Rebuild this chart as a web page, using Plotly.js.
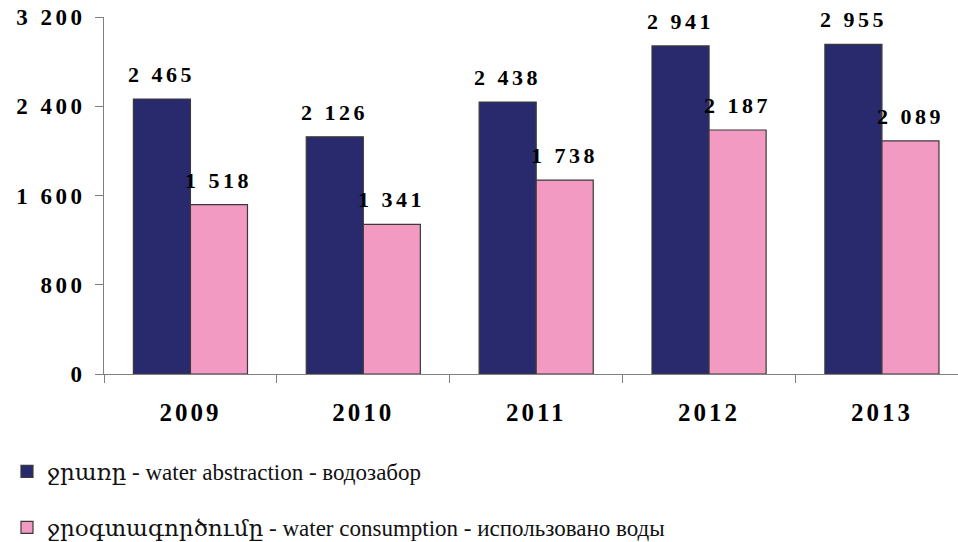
<!DOCTYPE html>
<html>
<head>
<meta charset="utf-8">
<script src="https://cdn.plot.ly/plotly-3.0.1.min.js"></script>
<style>
html, body { margin: 0; padding: 0; background: #fff; }
#chart { width: 958px; height: 542px; }
.xtick text { letter-spacing: 3px; }
.ytick text { letter-spacing: 3.5px; }
.annotation-text { letter-spacing: 3.5px; }
</style>
</head>
<body>
<div id="chart"></div>
<script>
var years = ['2009', '2010', '2011', '2012', '2013'];
var abstraction = [2465, 2126, 2438, 2941, 2955];
var consumption = [1518, 1341, 1738, 2187, 2089];
var abstractionName = 'ջրառը - water abstraction - водозабор';
var consumptionName = 'ջրօգտագործումը - water consumption - использовано воды';
var yTickVals = [0, 800, 1600, 2400, 3200];

function fmt(v) { return String(v).replace(/\B(?=(\d{3})+(?!\d))/g, ' '); }

var serif = 'Liberation Serif, DejaVu Serif, serif';
var navy = '#29296e';
var pink = '#f39ac2';
var barLine = { color: '#3a3a3a', width: 1.2 };

var traces = [
  { type: 'bar', x: years, y: abstraction, name: abstractionName, legendgroup: 'a',
    marker: { color: navy, line: barLine }, hoverinfo: 'y' },
  { type: 'bar', x: years, y: consumption, name: consumptionName, legendgroup: 'b',
    marker: { color: pink, line: barLine }, hoverinfo: 'y' }
];

var bargap = 0.34;
var half = (1 - bargap) / 4;
var labelFont = { family: serif, size: 22, weight: 'bold', color: '#000' };
var annotations = [];
years.forEach(function (yr, i) {
  annotations.push({ x: i - half, y: abstraction[i], xref: 'x', yref: 'y', text: fmt(abstraction[i]),
    showarrow: false, yanchor: 'bottom', yshift: 10, font: labelFont });
  annotations.push({ x: i + half, y: consumption[i], xref: 'x', yref: 'y', text: fmt(consumption[i]),
    showarrow: false, yanchor: 'bottom', yshift: 10, font: labelFont });
});

var layout = {
  width: 958, height: 542,
  margin: { l: 104, r: 0, t: 17, b: 168 },
  paper_bgcolor: '#fff', plot_bgcolor: '#fff',
  font: { family: serif },
  barmode: 'group', bargap: bargap, bargroupgap: 0,
  showlegend: true,
  legend: {
    orientation: 'v', xref: 'paper', yref: 'container',
    x: -0.1136, xanchor: 'left', y: 0.1697, yanchor: 'top',
    traceorder: 'grouped', tracegroupgap: 23,
    font: { family: serif, size: 23, color: '#111' }
  },
  xaxis: {
    type: 'category', range: [-0.5, 4.44],
    showline: true, linecolor: '#808080', linewidth: 1,
    ticks: 'outside', tickson: 'boundaries', ticklen: 8, tickcolor: '#808080',
    showgrid: false, zeroline: false,
    tickfont: { family: serif, size: 25, weight: 'bold', color: '#000' },
    ticklabelstandoff: 16
  },
  yaxis: {
    range: [0, 3200], tickvals: yTickVals, ticktext: yTickVals.map(fmt),
    showline: true, linecolor: '#808080', linewidth: 1,
    ticks: 'outside', ticklen: 8, tickcolor: '#808080',
    showgrid: false, zeroline: false,
    tickfont: { family: serif, size: 23, weight: 'bold', color: '#000' },
    ticklabelstandoff: 5
  },
  annotations: annotations
};

Plotly.newPlot('chart', traces, layout, { displayModeBar: false, staticPlot: true });
</script>
</body>
</html>
